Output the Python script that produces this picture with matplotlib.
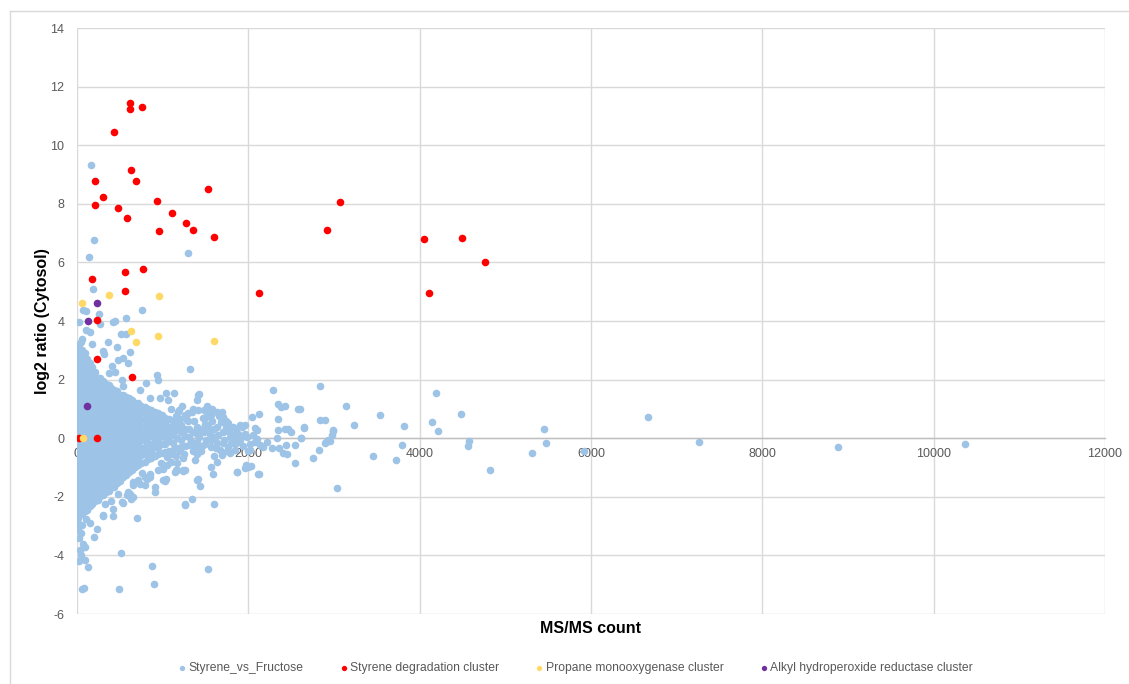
"""
Scatter of log2 ratio (Cytosol) against MS/MS count, with gene clusters highlighted.
"""
import matplotlib
matplotlib.use('Agg')
from matplotlib import pyplot as plt
from matplotlib.lines import Line2D

# dense core of the Styrene_vs_Fructose cloud, read column by column
core_x = [8, 35, 62, 92, 120, 150, 180, 210, 240, 272, 305, 338, 370, 402, 435, 468,
          500, 535, 570, 605, 640, 676, 712, 750, 788, 826, 865, 905, 945, 988,
          1030, 1075, 1120, 1165, 1210, 1255, 1305, 1400]
core_y = [
    [-2.72, -2.48, -2.23, -1.98, -1.74, -1.5, -1.25, -1.0, -0.76, -0.5, -0.26, -0.02, 0.24,
     0.49, 0.73, 0.98, 1.22, 1.47, 1.72, 1.96, 2.21, 2.46, 2.7, 2.95, 3.18],
    [-2.6, -2.35, -2.11, -1.86, -1.62, -1.37, -1.13, -0.88, -0.64, -0.39, -0.15, 0.1, 0.35,
     0.59, 0.84, 1.08, 1.33, 1.57, 1.82, 2.06, 2.31, 2.55, 2.8, 3.05],
    [-2.6, -2.36, -2.1, -1.86, -1.61, -1.37, -1.12, -0.88, -0.63, -0.38, -0.13, 0.12, 0.36,
     0.61, 0.86, 1.1, 1.35, 1.6, 1.84, 2.09, 2.33, 2.58, 2.83, 3.0],
    [-2.48, -2.24, -1.98, -1.74, -1.49, -1.25, -1.0, -0.76, -0.51, -0.26, -0.01, 0.24, 0.48,
     0.73, 0.98, 1.22, 1.47, 1.72, 1.96, 2.21, 2.45, 2.7, 2.9],
    [-2.45, -2.2, -1.96, -1.71, -1.46, -1.22, -0.97, -0.72, -0.48, -0.23, 0.02, 0.26, 0.51,
     0.76, 1.0, 1.25, 1.5, 1.74, 1.99, 2.24, 2.48, 2.72],
    [-2.33, -2.08, -1.84, -1.59, -1.34, -1.1, -0.85, -0.6, -0.36, -0.11, 0.14, 0.38, 0.63,
     0.88, 1.12, 1.37, 1.62, 1.86, 2.11, 2.36, 2.58],
    [-2.25, -2.0, -1.76, -1.52, -1.27, -1.03, -0.78, -0.54, -0.3, -0.05, 0.19, 0.44, 0.68,
     0.93, 1.17, 1.42, 1.66, 1.91, 2.15, 2.42],
    [-2.13, -1.88, -1.64, -1.4, -1.15, -0.91, -0.66, -0.42, -0.18, 0.07, 0.31, 0.56, 0.8,
     1.05, 1.29, 1.54, 1.78, 2.03, 2.25],
    [-2.1, -1.86, -1.62, -1.38, -1.13, -0.89, -0.65, -0.4, -0.16, 0.08, 0.33, 0.57, 0.81,
     1.06, 1.3, 1.55, 1.79, 2.05],
    [-1.98, -1.74, -1.5, -1.26, -1.01, -0.77, -0.53, -0.28, -0.04, 0.2, 0.45, 0.69, 0.93,
     1.18, 1.42, 1.67, 1.92, 2.05],
    [-1.95, -1.7, -1.46, -1.22, -0.97, -0.73, -0.49, -0.24, 0.0, 0.25, 0.49, 0.74, 0.98,
     1.23, 1.47, 1.72, 1.97],
    [-1.83, -1.58, -1.34, -1.1, -0.85, -0.61, -0.37, -0.12, 0.12, 0.37, 0.61, 0.86, 1.1,
     1.35, 1.59, 1.84],
    [-1.8, -1.56, -1.31, -1.07, -0.83, -0.58, -0.34, -0.1, 0.15, 0.39, 0.64, 0.88, 1.12,
     1.37, 1.61, 1.8],
    [-1.68, -1.44, -1.19, -0.95, -0.71, -0.46, -0.22, 0.02, 0.27, 0.51, 0.76, 1.0, 1.24,
     1.49, 1.7],
    [-1.65, -1.4, -1.16, -0.92, -0.67, -0.43, -0.19, 0.06, 0.3, 0.54, 0.79, 1.03, 1.28,
     1.52, 1.66],
    [-1.53, -1.28, -1.04, -0.8, -0.55, -0.31, -0.07, 0.18, 0.42, 0.66, 0.91, 1.15, 1.4, 1.6],
    [-1.45, -1.21, -0.97, -0.72, -0.48, -0.24, 0.01, 0.25, 0.49, 0.74, 0.98, 1.22, 1.47],
    [-1.33, -1.09, -0.85, -0.6, -0.36, -0.12, 0.13, 0.37, 0.61, 0.86, 1.1, 1.34, 1.48],
    [-1.25, -1.01, -0.77, -0.52, -0.28, -0.04, 0.2, 0.45, 0.69, 0.93, 1.18, 1.42],
    [-1.15, -0.89, -0.65, -0.4, -0.16, 0.08, 0.32, 0.57, 0.81, 1.05, 1.3, 1.38],
    [-1.08, -0.83, -0.59, -0.35, -0.1, 0.14, 0.38, 0.63, 0.87, 1.11, 1.3],
    [-0.98, -0.71, -0.47, -0.23, 0.02, 0.26, 0.5, 0.75, 0.99, 1.2],
    [-0.92, -0.68, -0.44, -0.19, 0.05, 0.29, 0.54, 0.78, 1.02, 1.2],
    [-0.85, -0.56, -0.32, -0.07, 0.17, 0.41, 0.66, 0.9, 1.1],
    [-0.8, -0.55, -0.31, -0.07, 0.17, 0.42, 0.66, 0.9, 1.05],
    [-0.72, -0.43, -0.19, 0.05, 0.29, 0.54, 0.78, 1.0],
    [-0.66, -0.42, -0.18, 0.07, 0.31, 0.55, 0.8, 0.95],
    [-0.6, -0.3, -0.06, 0.19, 0.43, 0.67, 0.88],
    [-0.55, -0.3, -0.06, 0.18, 0.43, 0.67, 0.85],
    [-0.5, -0.18, 0.06, 0.3, 0.55, 0.78],
    [-0.46, -0.21, 0.03, 0.28, 0.52, 0.7],
    [-0.42, -0.09, 0.16, 0.4, 0.64],
    [-0.4, -0.15, 0.1, 0.34, 0.58],
    [-0.34, 0.02, 0.27, 0.5],
    [-0.3, -0.05, 0.2, 0.45],
    [-0.25, 0.08, 0.33],
    [-0.22, 0.04, 0.3],
    [-0.12, 0.15, 0.38],
]

# scattered Styrene_vs_Fructose proteins outside the core
blue_upper = [
    (167, 9.32), (202, 6.75), (144, 6.19), (1299, 6.31), (191, 5.08),
    (66, 4.37), (105, 4.34), (27, 3.98), (257, 4.23), (268, 3.91), (424, 3.98), (443, 4.0),
    (572, 4.09), (755, 4.39), (55, 3.4), (45, 3.3), (105, 3.69), (152, 3.63), (171, 3.23),
    (366, 3.27), (463, 3.12), (510, 3.57), (568, 3.55), (619, 2.95), (300, 2.97), (319, 2.87),
    (482, 2.66), (540, 2.75), (599, 2.57), (405, 2.46), (377, 2.23), (443, 2.26), (521, 1.98),
    (540, 1.78), (805, 1.87), (930, 2.15), (949, 2.0), (735, 1.64), (1319, 2.38), (1039, 1.53),
    (1136, 1.53), (1416, 1.47), (852, 1.36), (969, 1.36), (1066, 1.30), (1397, 1.30),
    (1428, 1.50), (1100, 1.0), (1190, 0.95), (1230, 1.1), (1300, 0.85), (1350, 1.0),
    (1480, 0.95), (1520, 1.1), (1560, 0.8), (1660, 0.75),
]
blue_middle = [
    (2284, 1.64), (2836, 1.78), (2350, 1.16), (2378, 1.05), (2428, 1.09), (2583, 1.0),
    (2603, 1.01), (1261, 0.71), (1280, 0.61), (1339, 0.90), (1416, 0.98), (1572, 1.01),
    (1630, 0.90), (1689, 0.90), (1506, 0.71), (1708, 0.71), (1739, 0.59), (1766, 0.52),
    (2039, 0.71), (2128, 0.82), (2342, 0.64), (2836, 0.61), (2895, 0.61), (2650, 0.36),
    (2992, 0.27), (1922, 0.39), (1961, 0.44), (2078, 0.36), (2097, 0.27), (2350, 0.27),
    (2428, 0.30), (2467, 0.33), (2494, 0.22), (2611, 0.01), (2973, 0.10), (2934, -0.07),
    (2895, -0.16), (2545, -0.22), (2440, -0.22), (2331, 0.02), (2097, -0.04), (2136, -0.24),
    (2175, -0.30), (2221, -0.13), (2272, -0.35), (2361, -0.32), (2409, -0.52), (2447, -0.55),
    (2829, -0.39), (2751, -0.69), (2545, -0.86), (2000, -0.43), (2000, -0.98), (1961, -1.0),
    (2031, -0.96), (2124, -1.23), (1871, -1.15), (3031, -1.70), (1560, -0.98), (1583, -1.21),
    (1416, -1.38), (1436, -1.64), (1339, -2.06), (1261, -2.26), (1599, -2.23), (1241, -1.09),
    (1377, -0.73), (1786, -0.52), (1844, -0.41), (1689, -0.58), (1630, -0.81), (1922, 0.07),
    (1961, 0.16), (1825, -0.07), (1883, -0.13), (1480, 0.2), (1500, -0.2), (1530, 0.45),
    (1560, -0.05), (1600, 0.3), (1620, -0.35), (1650, 0.1), (1680, 0.55), (1700, -0.15),
    (1730, 0.25), (1760, -0.3), (1790, 0.05), (1820, 0.4), (1850, -0.2), (1880, 0.15),
    (1450, -0.45), (1470, 0.7), (1540, 0.85), (1600, -0.6), (1350, -0.45), (1260, 0.8),
    (1180, 0.9), (1050, -0.65), (1150, -0.6), (1250, -0.55), (1864, -1.15), (1969, -0.92),
    (2019, -0.41), (2078, -0.13), (2116, -1.21),
    (1420, 0.05), (1440, 0.3), (1460, -0.25), (1490, 0.5), (1510, -0.05), (1520, 0.3),
    (1550, 0.15), (1570, -0.3), (1580, 0.6), (1610, 0.05), (1640, -0.15), (1640, 0.4),
    (1670, -0.4), (1700, 0.2), (1720, -0.05), (1740, 0.4), (1750, -0.45), (1780, 0.25),
    (1800, -0.15), (1830, 0.1), (1860, 0.3), (1900, -0.05), (1900, 0.45), (1940, -0.25),
    (1980, 0.05), (2050, 0.1), (2020, -0.2), (1350, 0.2), (1330, -0.1), (1380, -0.3),
    (1300, 0.6), (1370, 0.6), (1200, 0.65), (1150, 0.75), (1100, -0.55), (1200, -0.45),
]
blue_right = [
    (3136, 1.10), (2650, 0.39), (3233, 0.45), (3540, 0.80), (3821, 0.42), (4147, 0.57),
    (4214, 0.23), (4194, 1.56), (4482, 0.84), (2992, 0.25), (2953, -0.09), (2907, -0.14),
    (2618, 0.0), (3451, -0.61), (3720, -0.73), (3793, -0.24), (4576, -0.08), (4564, -0.27),
    (4825, -1.10), (5315, -0.51), (5455, 0.32), (5478, -0.15), (5922, -0.43), (6661, 0.72),
    (7264, -0.14), (8879, -0.31), (10369, -0.2),
]
blue_lower = [
    (15, -2.9), (100, -2.75), (60, -2.95), (15, -3.14), (43, -3.25), (27, -3.42), (74, -3.6),
    (93, -3.71), (35, -3.82), (43, -4.0), (27, -4.19), (132, -4.39), (93, -4.14), (55, -5.13),
    (86, -5.10), (494, -5.16), (513, -3.93), (875, -4.37), (899, -4.98), (1533, -4.48),
    (152, -2.91), (237, -3.10), (202, -3.37), (300, -2.66), (424, -2.66), (424, -2.43),
    (697, -2.72), (303, -2.63), (540, -2.21), (630, -2.06), (619, -1.89), (599, -1.83),
    (393, -2.15), (521, -2.17), (587, -1.95), (657, -2.0), (910, -1.83), (910, -1.68),
    (1027, -1.46), (1039, -1.38), (1241, -1.12), (1163, -1.09), (1144, -1.15), (735, -1.55),
    (794, -1.6), (821, -1.38), (852, -1.32), (716, -1.43), (657, -1.49), (794, -1.32),
    (852, -1.21), (1007, -1.43), (949, -1.09), (1007, -1.04), (1047, -0.92), (1163, -0.86),
    (1241, -0.69), (1404, -0.55), (1404, -1.41), (1261, -2.29), (1156, -1.09), (1261, -1.09),
    (330, -2.25), (480, -1.9), (650, -1.6), (760, -1.2), (980, -0.85), (1100, -0.8),
]

styrene_cluster = [
    (622, 11.43), (622, 11.23), (755, 11.31), (428, 10.45), (630, 9.17), (210, 8.79),
    (689, 8.79), (303, 8.22), (210, 7.95), (479, 7.85), (580, 7.51), (930, 8.09),
    (1109, 7.70), (1276, 7.36), (1350, 7.11), (957, 7.07), (1525, 8.51), (1595, 6.86),
    (3066, 8.07), (2922, 7.11), (4050, 6.79), (4494, 6.83), (4763, 6.01), (4113, 4.97),
    (560, 5.67), (774, 5.79), (171, 5.45), (564, 5.01), (2124, 4.94), (230, 4.05),
    (230, 2.71), (638, 2.09), (20, 0.0), (230, 0.0),
]
propane_cluster = [
    (62, 4.63), (370, 4.88), (961, 4.85), (630, 3.65), (689, 3.28), (949, 3.48),
    (1595, 3.31), (70, 0.0),
]
ahp_cluster = [(237, 4.63), (128, 3.99), (120, 1.10)]

series_labels = ['Styrene_vs_Fructose', 'Styrene degradation cluster',
                 'Propane monooxygenase cluster', 'Alkyl hydroperoxide reductase cluster']
series_colors = ['#9DC3E6', '#FF0000', '#FFD966', '#7030A0']

x_ticks = [0, 2000, 4000, 6000, 8000, 10000, 12000]
y_ticks = [-6, -4, -2, 0, 2, 4, 6, 8, 10, 12, 14]


def unzip(points):
    return [p[0] for p in points], [p[1] for p in points]


def plot():
    plt.rcParams['font.family'] = ['Liberation Sans', 'DejaVu Sans']
    plt.rcParams['axes.unicode_minus'] = False

    fig = plt.figure(figsize=(11.29, 6.84), dpi=100)
    ax = fig.add_axes([0.0682, 0.1023, 0.9105, 0.8567])

    # flatten the core columns and add the scattered points
    bx, by = [], []
    for x, ys in zip(core_x, core_y):
        bx += [x] * len(ys)
        by += ys
    for group in (blue_upper, blue_middle, blue_right, blue_lower):
        gx, gy = unzip(group)
        bx += gx
        by += gy

    groups = [(bx, by)] + [unzip(g) for g in (styrene_cluster, propane_cluster, ahp_cluster)]
    for (gx, gy), label, color in zip(groups, series_labels, series_colors):
        ax.scatter(gx, gy, s=30, c=color, linewidths=0, label=label, zorder=2)

    ax.set_xlim(0, 12000)
    ax.set_ylim(-6, 14)
    ax.set_xticks(x_ticks)
    ax.set_xticklabels([str(t) for t in x_ticks])
    ax.set_yticks(y_ticks)
    ax.set_yticklabels([str(t) for t in y_ticks])
    ax.grid(True, color='#D9D9D9', linewidth=1.0)
    ax.set_axisbelow(True)

    for side in ('top', 'right', 'left'):
        ax.spines[side].set_visible(False)
    ax.spines['bottom'].set_position(('data', 0))
    ax.spines['bottom'].set_color('#BFBFBF')
    ax.spines['bottom'].set_linewidth(1.0)
    ax.spines['bottom'].set_zorder(1)
    ax.tick_params(length=0, labelsize=9, labelcolor='#595959')
    ax.tick_params(axis='x', pad=7)
    ax.tick_params(axis='y', pad=9)

    ax.set_xlabel('MS/MS count', fontsize=11.5, fontweight='bold', va='center')
    ax.xaxis.set_label_coords(0.5, -0.024)
    ax.set_ylabel('log2 ratio (Cytosol)', fontsize=11.5, fontweight='bold', va='center')
    ax.yaxis.set_label_coords(-0.034, 0.5)

    ax.legend(loc='center', bbox_to_anchor=(0.510, 0.0234), bbox_transform=fig.transFigure,
              ncol=4, frameon=False, fontsize=8.7, labelcolor='#595959', markerscale=0.7,
              handlelength=0.6, handletextpad=0.25, columnspacing=3.0)

    # light chart-area border
    fig.add_artist(Line2D([9.5 / 1129, 9.5 / 1129], [0, 1 - 11 / 684],
                          transform=fig.transFigure, color='#D9D9D9', linewidth=1))
    fig.add_artist(Line2D([9.5 / 1129, 1], [1 - 11 / 684, 1 - 11 / 684],
                          transform=fig.transFigure, color='#D9D9D9', linewidth=1))

    fig.savefig('out.png', dpi=100)


if __name__ == '__main__':
    plot()
